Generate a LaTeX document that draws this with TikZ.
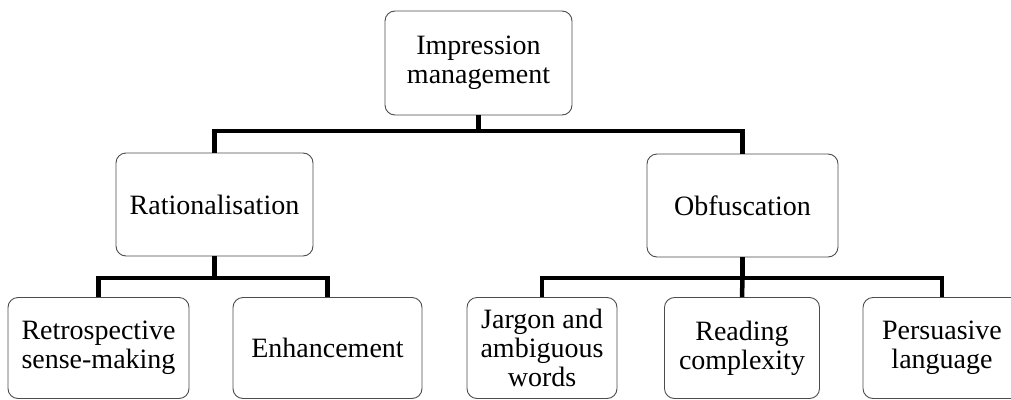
\documentclass[tikz,border=0pt]{standalone}
\usepackage{fontspec}
\setmainfont{Liberation Serif}
\begin{document}
\begin{tikzpicture}[x=1pt,y=-1pt,
  box/.style={draw=black!70, line width=0.9pt, rounded corners=10pt, fill=white,
    align=center, inner sep=0pt, font=\fontsize{28}{29}\selectfont},
  link/.style={draw=black, line width=4.5pt, line join=miter}]
\useasboundingbox (0,0) rectangle (1011,399);
\clip (0,0) rectangle (1011,399);

% nodes
\node[box, minimum width=187pt, minimum height=104pt] (top) at (478.5,63) {Impression\\management};
\node[box, minimum width=197pt, minimum height=103pt] (rat) at (214.5,204.5) {Rationalisation};
\node[box, minimum width=191pt, minimum height=103pt] (obf) at (742.5,205.5) {Obfuscation};
\node[box, minimum width=181pt, minimum height=101pt] (retro) at (98.5,348) {Retrospective\\sense-making};
\node[box, minimum width=189pt, minimum height=101pt] (enh) at (327.5,348) {Enhancement};
\node[box, minimum width=150pt, minimum height=101pt] (jar) at (542,348) {Jargon and\\ambiguous\\words};
\node[box, minimum width=155pt, minimum height=101pt] (rea) at (742,348) {Reading\\complexity};
\node[box, minimum width=158pt, minimum height=101pt] (per) at (942,348) {Persuasive\\language};

% bus points
\coordinate (b1) at (top.south |- 0,131);
\coordinate (b2) at (rat.south |- 0,278);
\coordinate (b3) at (obf.south |- 0,278);

% connectors
\draw[link] (top.south) -- (b1);
\draw[link] (rat.north) |- (b1) -| (obf.north);
\draw[link] (rat.south) -- (b2);
\draw[link] (retro.north) |- (b2) -| (enh.north);
\draw[link] (obf.south) -- (b3);
\draw[link] (jar.north) |- (b3) -| (per.north);
\draw[link] (b3) -- (rea.north);
\end{tikzpicture}
\end{document}
